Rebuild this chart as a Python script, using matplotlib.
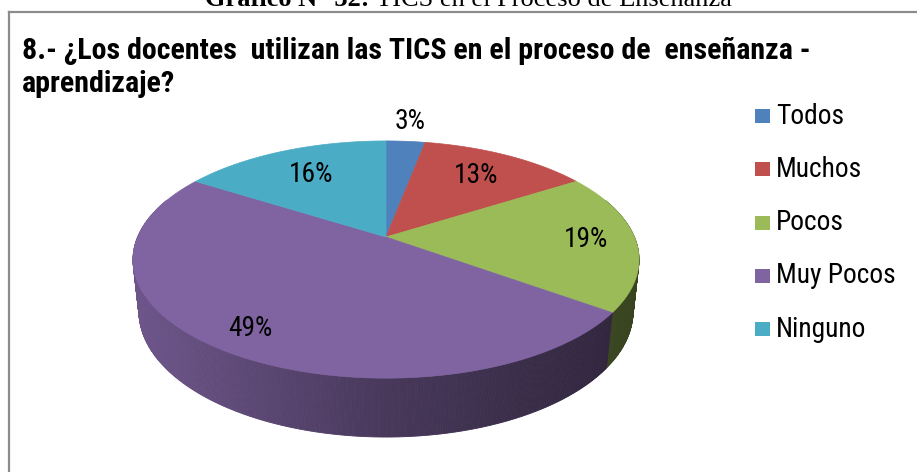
import numpy as np
import matplotlib.pyplot as plt
import matplotlib.font_manager as fm
from matplotlib.patches import Polygon, Rectangle
from matplotlib.lines import Line2D

# survey answers
categories = ['Todos', 'Muchos', 'Pocos', 'Muy Pocos', 'Ninguno']
values = [3, 13, 19, 49, 16]
colors = ['#4F81BD', '#C0504D', '#9BBB59', '#8064A2', '#4BACC6']

title = '8.- ¿Los docentes  utilizan las TICS en el proceso de  enseñanza -\naprendizaje?'
caption_bold = 'Gráfico N° 32:'
caption_rest = ' TICS en el Proceso de Enseñanza'


def pick_narrow_font():
    # look for a condensed sans, fall back to a plain Arial-like face
    entries = fm.fontManager.ttflist
    names = {f.name for f in entries}
    for fam in ['Liberation Sans Narrow', 'Arial Narrow', 'Roboto Condensed',
                'Open Sans Condensed', 'Noto Sans Condensed', 'DejaVu Sans Condensed']:
        if fam in names:
            return {'family': fam}
    for fam in ['Roboto', 'Noto Sans', 'Open Sans', 'DejaVu Sans', 'Inter']:
        for f in entries:
            if f.name == fam and 'condensed' in str(f.stretch) and 'extra' not in str(f.stretch):
                return {'family': fam, 'stretch': f.stretch}
    return {'family': 'Liberation Sans'}


narrow = pick_narrow_font()
serif = ['Liberation Serif', 'DejaVu Serif']

# camera for the 3d pie (figure works in pixel units)
cx, cy = 386, 237
elev = np.radians(27.4)
dist = 4.67
focal = 1160
thick = 0.2375


def project(x, y, z):
    c, s = np.cos(elev), np.sin(elev)
    depth = dist + y * c - z * s
    u = cx + focal * x / depth
    v = cy - focal * (y * s + z * c) / depth
    return u, v


def hex2rgb(h):
    h = h.lstrip('#')
    return np.array([int(h[i:i + 2], 16) for i in (0, 2, 4)]) / 255.0


fig = plt.figure(figsize=(9.17, 4.72), dpi=100)
ax = fig.add_axes([0, 0, 1, 1])
ax.set_xlim(0, 917)
ax.set_ylim(472, 0)
ax.axis('off')


def text_width(t):
    fig.canvas.draw()
    return t.get_window_extent().width


def fit_size(t, target, size_max):
    w = text_width(t)
    size = min(size_max, t.get_fontsize() * target / w)
    t.set_fontsize(size)
    return size


total = sum(values)
cum = np.concatenate([[0], np.cumsum(values)]) / total
# excel starts at 12 o'clock and goes clockwise
bounds = 90 - 360 * cum


def slice_of(phi):
    frac = ((90 - phi) % 360) / 360
    return int(np.searchsorted(cum, frac, side='right') - 1)


# side wall, drawn back to front
step = 0.5
segs = np.arange(-200, 20, step)
segs = sorted(segs, key=lambda p: -np.sin(np.radians(p + step / 2)))
for p in segs:
    ph = np.radians(np.array([p, p + step]))
    xs, ys = np.cos(ph), np.sin(ph)
    ut, vt = project(xs, ys, 0)
    ub, vb = project(xs, ys, -thick)
    k = slice_of(p + step / 2)
    shade = np.interp(ut.mean(), [130, 387, 640], [0.86, 0.56, 0.36])
    col = np.clip(hex2rgb(colors[k]) * shade, 0, 1)
    poly = Polygon(np.column_stack([np.r_[ut, ub[::-1]], np.r_[vt, vb[::-1]]]),
                   closed=True, facecolor=col, edgecolor=col, linewidth=0.6)
    ax.add_patch(poly)

# top face
for i in range(len(values)):
    ph = np.radians(np.linspace(bounds[i], bounds[i + 1], 200))
    u, v = project(np.cos(ph), np.sin(ph), 0)
    pts = np.column_stack([np.r_[cx, u], np.r_[cy, v]])
    ax.add_patch(Polygon(pts, closed=True, facecolor=colors[i],
                         edgecolor=colors[i], linewidth=0.5))

# legend
leg_texts = []
for i, name in enumerate(categories):
    yc = 116 + i * 53.3
    ax.add_patch(Rectangle((755, yc - 7), 15, 14, facecolor=colors[i],
                           edgecolor='none'))
    leg_texts.append(ax.text(776, yc, name, ha='left', va='center',
                             fontsize=17, color='black', **narrow))
lab_size = fit_size(leg_texts[3], 120, 22)
for t in leg_texts:
    t.set_fontsize(lab_size)

# percentage labels
label_r = [1.25, 0.72, 0.8, 0.84, 0.7]
for i, val in enumerate(values):
    mid = np.radians((bounds[i] + bounds[i + 1]) / 2)
    u, v = project(label_r[i] * np.cos(mid), label_r[i] * np.sin(mid), 0)
    ax.text(u, v, f'{val}%', ha='center', va='center', fontsize=lab_size,
            color='black', **narrow)

# chart title
line1, line2 = title.split('\n')
t_a = ax.text(22, 59, line1, ha='left', va='baseline', fontsize=20,
              fontweight='bold', **narrow)
size = fit_size(t_a, 788, 22)
ax.text(22, 92, line2, ha='left', va='baseline', fontsize=size,
        fontweight='bold', **narrow)

# frame
ax.add_line(Line2D([9, 9], [12, 472], color='#8c8c8c', linewidth=1.6))
ax.add_line(Line2D([9, 917], [12, 12], color='#8c8c8c', linewidth=1.6))

# caption above the frame
t1 = ax.text(205, 6, caption_bold, ha='left', va='baseline', fontsize=19,
             fontweight='bold', family=serif)
fig.canvas.draw()
bb = t1.get_window_extent().transformed(ax.transData.inverted())
ax.text(bb.x1, 6, caption_rest, ha='left', va='baseline', fontsize=19,
        family=serif)

fig.savefig('out.png', dpi=100)
